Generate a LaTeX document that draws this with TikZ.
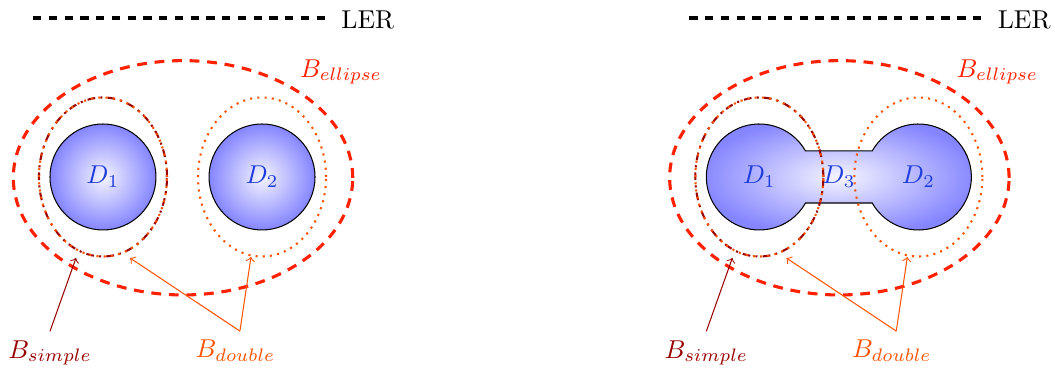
\documentclass[tikz,border=0pt]{standalone}
\usepackage{amsmath,amssymb}
\usepackage{xcolor}
\usepackage{tikz}

\definecolor{dtext}{RGB}{30,60,220}
\colorlet{ellcol}{red!75!orange}
\colorlet{doubcol}{orange!65!red}
\colorlet{simpcol}{red!60!black}

\begin{document}
\begin{tikzpicture}[
  disk/.style={circle,draw=black,minimum size=1.442cm,inner sep=0pt,
    inner color=blue!4,outer color=blue!48,text=dtext},
  dlab/.style={text=dtext},
  bell/.style={very thick,dash pattern=on 3.8pt off 3pt,ellcol},
  bdoub/.style={thick,dotted,doubcol},
  bsimp/.style={thick,dash dot,simpcol},
  lerline/.style={line width=1.6pt,dash pattern=on 3.2pt off 2.9pt,black},
  arr/.style={->,thin}]
  \useasboundingbox (0,0) rectangle (14.354,5.020);

  % left: two separate defects
  \coordinate (lerA) at (0.449,4.776);
  \node[anchor=west,inner sep=0pt] (ler) at (4.639,4.755) {LER};
  \draw[lerline] (lerA) -- (4.463,4.776);
  \node[disk] (d1) at (1.401,2.612) {$D_1$};
  \node[disk] (d2) at (3.565,2.612) {$D_2$};
  \draw[bsimp] (d1) ellipse[x radius=0.871,y radius=1.082];
  \draw[bdoub] (d1) ellipse[x radius=0.871,y radius=1.082];
  \draw[bdoub] (d2) ellipse[x radius=0.871,y radius=1.082];
  \draw[bell] (2.490,2.601) ellipse[x radius=2.309,y radius=1.594];
  \node[ellcol] (bell) at (4.639,4.041) {$B_{ellipse}$};
  \node[simpcol] (bsimple) at (0.680,0.218) {$B_{simple}$};
  \node[doubcol] (bdouble) at (3.204,0.245) {$B_{double}$};
  \coordinate (s1) at (1.034,1.510);
  \coordinate (t1) at (1.769,1.510);
  \coordinate (t2) at (3.415,1.524);
  \draw[arr,simpcol] (bsimple.north) -- (s1);
  \draw[arr,doubcol] ([xshift=0.06cm]bdouble.north) -- (t1);
  \draw[arr,doubcol] ([xshift=0.06cm]bdouble.north) -- (t2);

  % right: defects joined by D3
  \begin{scope}[xshift=8.93cm]
    \coordinate (rlerA) at (0.449,4.776);
    \node[anchor=west,inner sep=0pt] (rler) at (4.639,4.755) {LER};
    \draw[lerline] (rlerA) -- (4.463,4.776);
    \shade[draw=black,inner color=blue!4,outer color=blue!48]
      (2.029,2.966) arc[start angle=29.4,end angle=330.6,radius=0.721]
      -- (2.937,2.258) arc[start angle=209.4,end angle=510.6,radius=0.721]
      -- cycle;
    \node[dlab] (rd1) at (1.401,2.612) {$D_1$};
    \node[dlab] (rd2) at (3.565,2.612) {$D_2$};
    \node[dlab] (rd3) at (2.483,2.612) {$D_3$};
    \draw[bsimp] (rd1) ellipse[x radius=0.871,y radius=1.082];
    \draw[bdoub] (rd1) ellipse[x radius=0.871,y radius=1.082];
    \draw[bdoub] (rd2) ellipse[x radius=0.871,y radius=1.082];
    \draw[bell] (2.490,2.601) ellipse[x radius=2.309,y radius=1.594];
    \node[ellcol] (rbell) at (4.639,4.041) {$B_{ellipse}$};
    \node[simpcol] (rbsimple) at (0.680,0.218) {$B_{simple}$};
    \node[doubcol] (rbdouble) at (3.204,0.245) {$B_{double}$};
    \coordinate (rs1) at (1.034,1.510);
    \coordinate (rt1) at (1.769,1.510);
    \coordinate (rt2) at (3.415,1.524);
    \draw[arr,simpcol] (rbsimple.north) -- (rs1);
    \draw[arr,doubcol] ([xshift=0.06cm]rbdouble.north) -- (rt1);
    \draw[arr,doubcol] ([xshift=0.06cm]rbdouble.north) -- (rt2);
  \end{scope}
\end{tikzpicture}
\end{document}
